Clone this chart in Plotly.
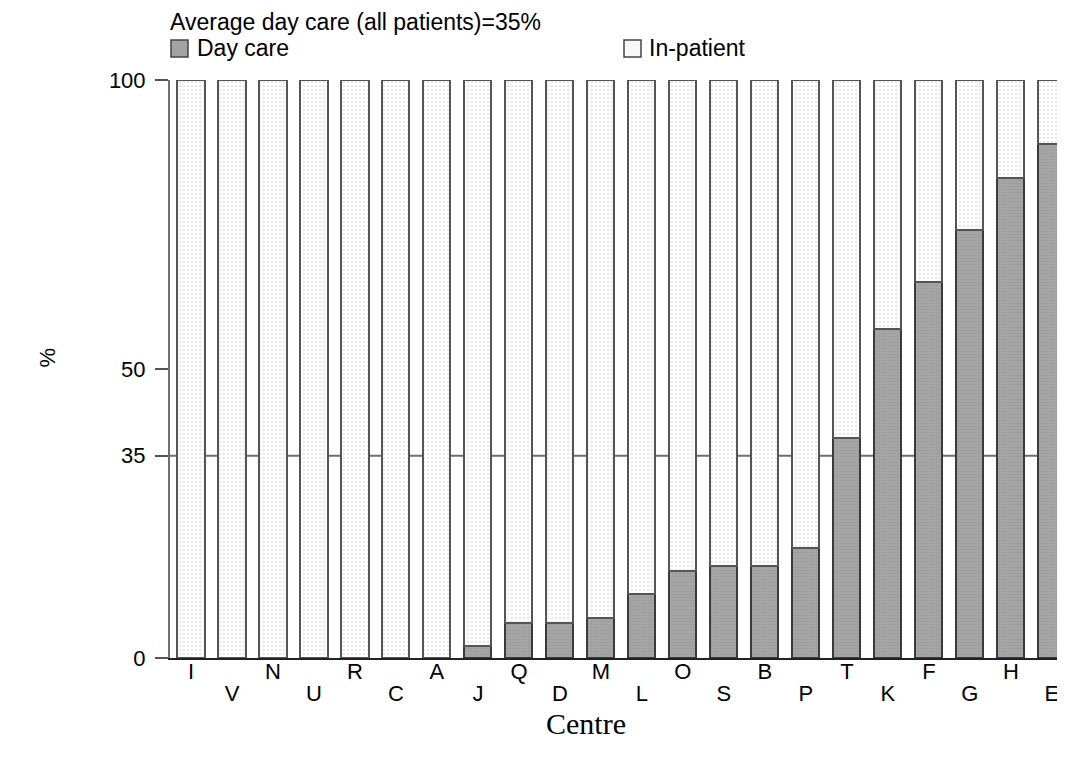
import plotly.graph_objects as go

centres = ["I", "V", "N", "U", "R", "C", "A", "J", "Q", "D", "M", "L", "O", "S", "B", "P", "T", "K", "F", "G", "H", "E"]
day_care = [0, 0, 0, 0, 0, 0, 0, 2, 6, 6, 7, 11, 15, 16, 16, 19, 38, 57, 65, 74, 83, 89]
in_patient = [100 - v for v in day_care]
average_day_care = 35
y_ticks = [0, 35, 50, 100]

FONT = "Liberation Sans, Arial, sans-serif"
FS_TEXT = 23
FS_TICK = 22

x_idx = list(range(len(centres)))
even_idx = [i for i in x_idx if i % 2 == 0]
odd_idx = [i for i in x_idx if i % 2 == 1]

PLOT_W = 895
X_RANGE = [-0.512, 21.32]


def px(sx):
    return (sx - 170) / PLOT_W


def py(sy):
    return (658 - sy) / 578


fig = go.Figure()
fig.add_trace(go.Bar(
    x=x_idx, y=day_care, name="Day care", width=0.66,
    marker=dict(color="#a3a3a3",
                pattern=dict(shape=".", bgcolor="#a6a6a6", fgcolor="#8f8f8f", size=3, solidity=0.4),
                line=dict(color="#3a3a3a", width=2)),
    cliponaxis=False, showlegend=False,
))
fig.add_trace(go.Bar(
    x=x_idx, y=in_patient, name="In-patient", width=0.66,
    marker=dict(color="#f7f7f7",
                pattern=dict(shape=".", bgcolor="#ffffff", fgcolor="#d0d0d0", size=4, solidity=0.3),
                line=dict(color="#555555", width=2)),
    cliponaxis=False, showlegend=False,
))
# invisible helper trace so the second (staggered-label) x axis is drawn
fig.add_trace(go.Scatter(x=[0], y=[0], xaxis="x2", mode="markers", marker=dict(opacity=0),
                         hoverinfo="skip", showlegend=False))

fig.add_shape(type="line", xref="paper", x0=0, x1=1, yref="y", y0=average_day_care, y1=average_day_care,
              line=dict(color="#6e6e6e", width=2), layer="below")

# header / legend drawn manually
fig.add_annotation(text="Average day care (all patients)=35%", xref="paper", yref="paper",
                   x=px(169), y=py(8), xanchor="left", yanchor="top", borderpad=0,
                   showarrow=False, font=dict(family=FONT, size=FS_TEXT, color="black"))
fig.add_shape(type="rect", xref="paper", yref="paper",
              x0=px(171), x1=px(188), y0=py(57), y1=py(40),
              fillcolor="#a3a3a3", line=dict(color="#444", width=1.5))
fig.add_annotation(text="Day care", xref="paper", yref="paper",
                   x=px(196), y=py(34), xanchor="left", yanchor="top", borderpad=0,
                   showarrow=False, font=dict(family=FONT, size=FS_TEXT, color="black"))
fig.add_shape(type="rect", xref="paper", yref="paper",
              x0=px(624), x1=px(641), y0=py(57), y1=py(40),
              fillcolor="#f8f8f8", line=dict(color="#444", width=1.5))
fig.add_annotation(text="In-patient", xref="paper", yref="paper",
                   x=px(648), y=py(34), xanchor="left", yanchor="top", borderpad=0,
                   showarrow=False, font=dict(family=FONT, size=FS_TEXT, color="black"))

fig.add_annotation(text="%", xref="paper", yref="paper", x=px(32), y=py(358), textangle=-90,
                   showarrow=False, font=dict(family=FONT, size=22, color="black"))
fig.add_annotation(text="Centre", xref="paper", yref="paper", x=px(586), y=py(706),
                   xanchor="center", yanchor="top", borderpad=0,
                   showarrow=False, font=dict(family="Liberation Serif, Times New Roman, serif", size=30, color="black"))

fig.update_layout(
    barmode="stack",
    width=1057, height=735,
    margin=dict(l=162, r=0, t=72, b=85, pad=0),
    paper_bgcolor="white", plot_bgcolor="white",
    font=dict(family=FONT, size=FS_TICK, color="black"),
    bargap=0,
    xaxis=dict(range=X_RANGE, tickmode="array", tickvals=even_idx,
               ticktext=[centres[i] for i in even_idx],
               ticks="", ticklen=0, ticklabelstandoff=-7, showgrid=False, zeroline=False,
               showline=True, linecolor="#222", linewidth=2, tickfont=dict(size=FS_TICK)),
    xaxis2=dict(range=X_RANGE, overlaying="x", anchor="y", side="bottom",
                tickmode="array", tickvals=odd_idx, ticktext=[centres[i] for i in odd_idx],
                ticks="", ticklen=0, ticklabelstandoff=20, showgrid=False, zeroline=False,
                showline=False, tickfont=dict(size=FS_TICK)),
    yaxis=dict(range=[0, 100], tickmode="array", tickvals=y_ticks, ticks="outside", ticklen=13,
               tickwidth=2, tickcolor="#555", ticklabelstandoff=5, showgrid=False, zeroline=False,
               showline=True, linecolor="#6e6e6e", linewidth=2, tickfont=dict(size=FS_TICK)),
)

fig.write_html("out.html")
